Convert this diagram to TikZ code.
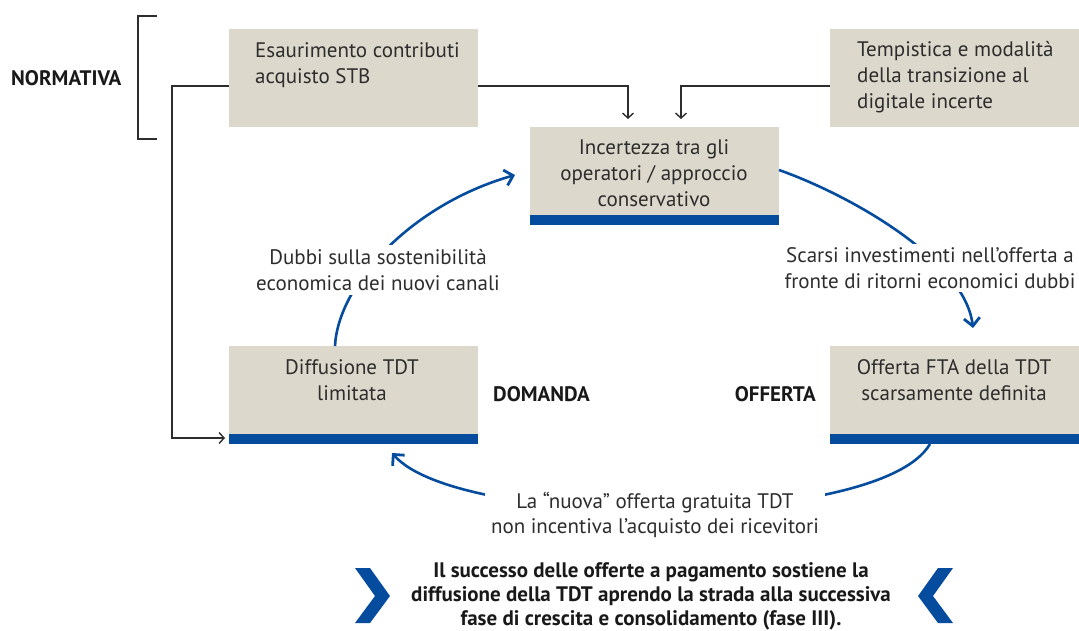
\documentclass[tikz,border=0pt]{standalone}
\usepackage{fontspec}
\setmainfont{PT Sans}
\usetikzlibrary{arrows.meta}
\definecolor{boxc}{RGB}{221,216,204}
\definecolor{tblue}{RGB}{5,76,158}
\definecolor{tgray}{RGB}{45,45,45}
\tikzset{
  box/.style={rectangle, fill=boxc, draw=none, inner sep=0pt, anchor=north west,
              minimum width=249pt, minimum height=98pt},
  txt/.style={text=tgray, inner sep=0pt, font=\fontsize{21}{25.7}\selectfont},
  lbl/.style={txt, fill=white, inner xsep=6pt, inner ysep=4pt, align=center},
  head/.style={text=black!90, inner sep=0pt, font=\fontsize{21}{25.7}\selectfont\bfseries},
  conn/.style={draw=tgray, line width=1.3pt, -{Straight Barb[length=5pt,width=11pt,line width=1.4pt]}},
  cyc/.style={draw=tblue, line width=2.6pt, -{Straight Barb[length=8pt,width=16pt,line width=2.8pt]}},
}
\begin{document}
\begin{tikzpicture}[x=1pt,y=-1pt]
\useasboundingbox (0,0) rectangle (1079,630);

% boxes
\node[box] (b1) at (229,29) {};
\node[box] (b2) at (830,29) {};
\node[box] (b3) at (530,127) {};
\node[box] (b4) at (229,346) {};
\node[box] (b5) at (830,346) {};
\foreach \b in {b3,b4,b5}{
  \fill[tblue] ([yshift=10pt]\b.south west) rectangle (\b.south east);
}

% box texts (anchor = baseline of last line)
\node[txt, anchor=base west, align=left] (t1) at (255,83) {Esaurimento contributi\\acquisto STB};
\node[txt, anchor=base west, align=left] (t2) at (857,108) {Tempistica e modalità\\della transizione al\\digitale incerte};
\node[txt, anchor=base, align=center] (t3) at (654,206) {Incertezza tra gli\\operatori / approccio\\conservativo};
\node[txt, anchor=base, align=center] (t4) at (352,400) {Diffusione TDT\\limitata};
\node[txt, anchor=base, align=center] (t5) at (954,400) {Offerta FTA della TDT\\scarsamente definita};

% side labels
\node[head, anchor=base west] (norm) at (11,85) {NORMATIVA};
\node[head, anchor=base west] (dom) at (493,401) {DOMANDA};
\node[head, anchor=base east] (off) at (816,401) {OFFERTA};

% bracket
\coordinate (brt) at (157,16);
\coordinate (brb) at (157,139);
\draw[tgray, line width=1.6pt] (brt) -- (138,16) -- (138,139) -- (brb);

% grey connectors
\coordinate (c1) at (628,86);
\coordinate (c2) at (681,86);
\draw[conn] (b1.east |- c1) -- (c1) -- ([yshift=8pt]c1 |- b3.north);
\draw[conn] (b2.west |- c2) -- (c2) -- ([yshift=8pt]c2 |- b3.north);
\coordinate (c3) at (172,86);
\coordinate (c4) at (172,438);
\draw[conn] (b1.west |- c3) -- (c3) -- (c4) -- ([xshift=-4pt]b4.west |- c4);

% blue cycle
\coordinate (a1s) at (335,346);
\coordinate (a1e) at (515,175);
\draw[cyc] (a1s) .. controls (338,285) and (410,205) .. (a1e);
\coordinate (a2s) at (779,170);
\coordinate (a2e) at (973,328);
\draw[cyc] (a2s) .. controls (850,195) and (965,260) .. (a2e);
\coordinate (a3s) at (930,444);
\coordinate (a3e) at (392,453);
\draw[cyc] (a3s) .. controls (880,530) and (460,530) .. (a3e);

% cycle labels
\node[lbl] (l1) at (378,270) {Dubbi sulla sostenibilità\\economica dei nuovi canali};
\node[lbl] (l2) at (930,268) {Scarsi investimenti nell’offerta a\\fronte di ritorni economici dubbi};
\node[lbl] (l3) at (655,515) {La “nuova” offerta gratuita TDT\\non incentiva l’acquisto dei ricevitori};

% conclusion
\node[head, anchor=base, align=center, font=\fontsize{21}{24}\selectfont\bfseries] (concl) at (651,625)
  {Il successo delle offerte a pagamento sostiene la\\diffusione della TDT aprendo la strada alla successiva\\fase di crescita e consolidamento (fase III).};
\fill[tblue] (355,568) -- (370,568) -- (390,596) -- (370,623) -- (355,623) -- (375,596) -- cycle;
\fill[tblue] (953,568) -- (938,568) -- (918,596) -- (938,623) -- (953,623) -- (933,596) -- cycle;
\end{tikzpicture}
\end{document}
